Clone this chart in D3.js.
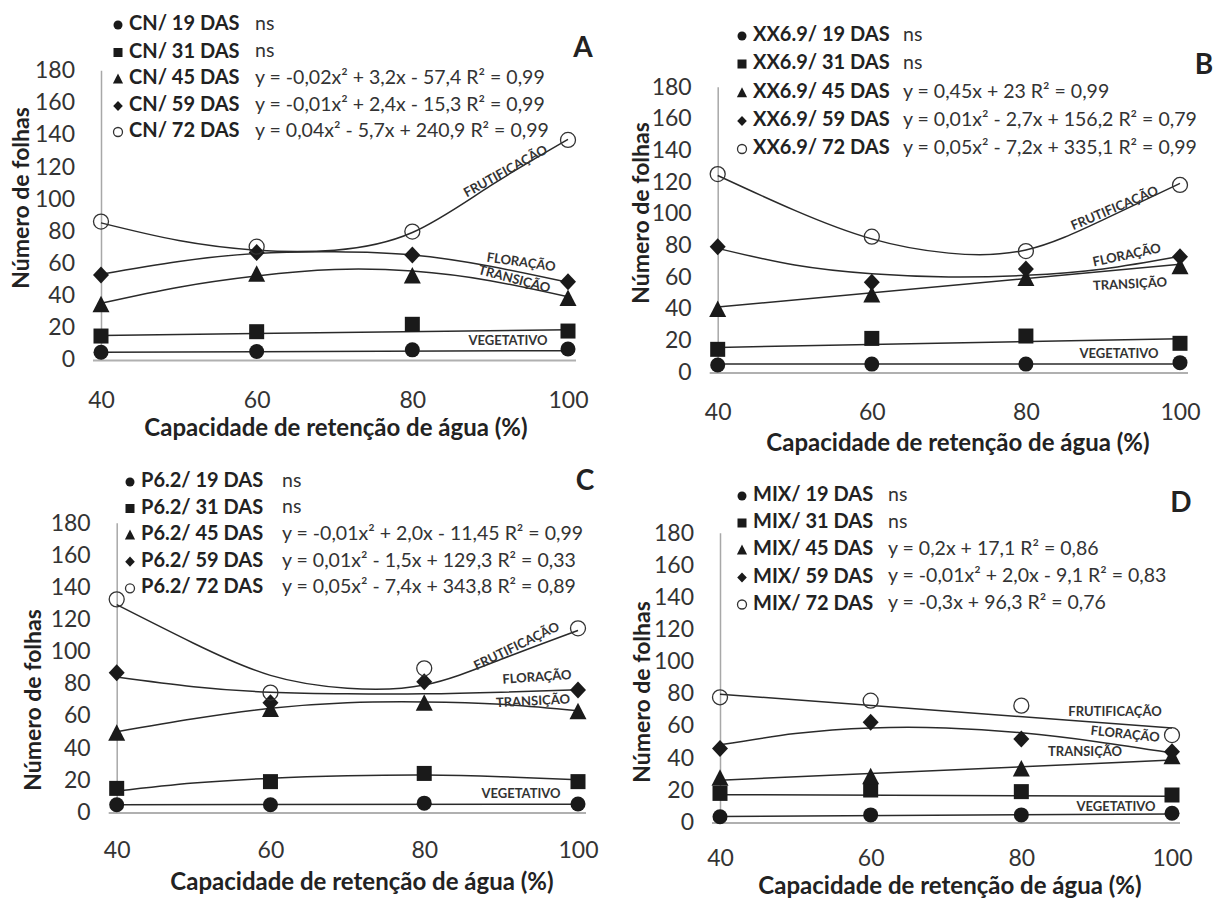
<!DOCTYPE html>
<html>
<head>
<meta charset="utf-8">
<script src="https://cdn.jsdelivr.net/npm/d3@7"></script>
<style>
  body { margin: 0; background: #fff; }
  svg { display: block; font-family: Lato, "Open Sans", sans-serif; }
</style>
</head>
<body>
<svg id="chart" width="1221" height="902"></svg>
<script>
// shared categories / ticks
var xCats = [40, 60, 80, 100];
var yTicks = [0, 20, 40, 60, 80, 100, 120, 140, 160, 180];
var trendX = [40, 50, 60, 70, 80, 90, 100];   // x where curved trend lines were read
var lineX = [40, 100];                        // x where straight trend lines were read
var stageNames = ["FRUTIFICAÇÃO", "FLORAÇÃO", "TRANSIÇÃO", "VEGETATIVO"];
var dasNames = ["19 DAS", "31 DAS", "45 DAS", "59 DAS", "72 DAS"];

// A - CN
var cnObs = [[4.5, 5, 6, 6.5], [14.6, 17.3, 21.9, 17.7], [34, 53, 52, 38], [52.6, 66.5, 65, 48.4], [85.8, 70.2, 79.6, 136.6]];
var cnTrend = [[4.5, 5.5], [15, 18.5], [35, 45, 52, 56, 55, 49, 39], [53, 61, 66, 67, 65, 58, 48], [85, 74, 68, 68, 79, 108, 137]];
var cnEq = ["ns", "ns", "y = -0,02x² + 3,2x - 57,4 R² = 0,99", "y = -0,01x² + 2,4x - 15,3 R² = 0,99", "y = 0,04x² - 5,7x + 240,9 R² = 0,99"];

// B - XX6.9
var xxObs = [[4.4, 5, 5, 5.9], [14.3, 21.2, 22.7, 18.1], [39.5, 48.6, 59, 66.4], [79, 56.6, 65, 72.7], [124.9, 85.4, 76.3, 118]];
var xxTrend = [[5, 5], [15.5, 21], [41, 68], [78, 67.5, 62, 60, 61, 65, 73], [124, 102, 84, 75, 77, 96, 119]];
var xxEq = ["ns", "ns", "y = 0,45x + 23 R² = 0,99", "y = 0,01x² - 2,7x + 156,2 R² = 0,79", "y = 0,05x² - 7,2x + 335,1 R² = 0,99"];

// C - P6.2
var pObs = [[4.5, 4.5, 5.5, 5], [14.7, 18.9, 24, 18.9], [49, 63.7, 67.6, 62.4], [86.7, 68, 81.1, 75.9], [132.3, 74.3, 89.4, 114.3]];
var pTrend = [[4.5, 4.8], [13, 18, 21, 22.5, 23, 22, 20], [50, 58, 64.5, 68, 68.5, 67, 63], [84, 78, 74.5, 73.5, 73.5, 74.5, 76], [129, 105, 85, 77, 79, 95, 113]];
var pEq = ["ns", "ns", "y = -0,01x² + 2,0x - 11,45 R² = 0,99", "y = 0,01x² - 1,5x + 129,3 R² = 0,33", "y = 0,05x² - 7,4x + 343,8 R² = 0,89"];

// D - MIX
var mixObs = [[3.3, 4.4, 4.4, 5.4], [17.8, 19.9, 18.9, 16.8], [27.2, 28.2, 33, 40.6], [45.8, 62, 51.6, 43.7], [77.6, 75.5, 72.4, 54.1]];
var mixTrend = [[3.5, 5], [17, 16], [26, 38.5], [48, 55, 58.5, 58.5, 55.5, 50, 43], [79.5, 58.5]];
var mixEq = ["ns", "ns", "y = 0,2x + 17,1 R² = 0,86", "y = -0,01x² + 2,0x - 9,1 R² = 0,83", "y = -0,3x + 96,3 R² = 0,76"];

// layout of the four panels (pixel positions only)
var panels = [
  {letter: "A", name: "CN", obs: cnObs, trend: cnTrend, eq: cnEq,
   x0: 101, x1: 568, y0: 359.5, y1: 70.2, letterPos: [583, 50], tickPad: 32,
   legX: 118, legRows: [25, 52.5, 79, 106, 132], eqX: 255,
   xTitle: [336, 430], yTitle: [23, 198],
   stages: [[506, 172, -29], [521, 263, 8], [514, 280, 15], [508, 342, 0]]},
  {letter: "B", name: "XX6.9", obs: xxObs, trend: xxTrend, eq: xxEq,
   x0: 717.7, x1: 1180, y0: 372, y1: 86.7, letterPos: [1204, 67], tickPad: 32,
   legX: 742, legRows: [36, 64, 92.7, 121, 149], eqX: 903,
   xTitle: [958, 445], yTitle: [643, 213],
   stages: [[1115, 209, -23], [1127, 256, -12], [1130, 285, -3], [1119, 355, 0]]},
  {letter: "C", name: "P6.2", obs: pObs, trend: pTrend, eq: pEq,
   x0: 116.7, x1: 578, y0: 812, y1: 522.7, letterPos: [585, 483], tickPad: 30,
   legX: 130, legRows: [482, 508.5, 535, 561.7, 588.3], eqX: 282,
   xTitle: [362, 884], yTitle: [35, 700],
   stages: [[517, 647, -26], [537, 678, -4], [533, 702, -3], [521, 795, 0]]},
  {letter: "D", name: "MIX", obs: mixObs, trend: mixTrend, eq: mixEq,
   x0: 720, x1: 1172, y0: 822, y1: 532.7, letterPos: [1181, 505], tickPad: 28,
   legX: 742, legRows: [496, 523, 550, 577.5, 604.5], eqX: 888,
   xTitle: [950, 888], yTitle: [644, 692],
   stages: [[1115, 713, 0], [1125, 735, 6], [1085, 753, 0], [1116, 808, 0]]}
];

var ink = "#1a1a1a";
var svg = d3.select("#chart");

// marker shapes: circle, square, triangle, diamond, open circle
function marker(g, k, cx, cy, s) {
  if (k === 0 || k === 4) {
    g.append("circle").attr("cx", cx).attr("cy", cy).attr("r", 7.5 * s)
      .attr("fill", k === 0 ? ink : "none")
      .attr("stroke", k === 0 ? "none" : "#333").attr("stroke-width", 1.3);
  } else if (k === 1) {
    g.append("rect").attr("x", cx - 7.5 * s).attr("y", cy - 7.5 * s)
      .attr("width", 15 * s).attr("height", 15 * s).attr("fill", ink);
  } else if (k === 2) {
    g.append("path").attr("transform", "translate(" + cx + "," + cy + ")")
      .attr("d", "M0," + (-9 * s) + "L" + (8.5 * s) + "," + (7.5 * s) + "L" + (-8.5 * s) + "," + (7.5 * s) + "Z")
      .attr("fill", ink);
  } else {
    g.append("path").attr("transform", "translate(" + cx + "," + cy + ")")
      .attr("d", "M0," + (-8.5 * s) + "L" + (8 * s) + ",0L0," + (8.5 * s) + "L" + (-8 * s) + ",0Z")
      .attr("fill", ink);
  }
}

panels.forEach(function (p) {
  var g = svg.append("g");
  var x = d3.scaleLinear().domain([40, 100]).range([p.x0, p.x1]);
  var y = d3.scaleLinear().domain([0, 180]).range([p.y0, p.y1]);

  // y axis: thin grey line at x = 40
  var ya = g.append("g").attr("transform", "translate(" + p.x0 + ",0)")
    .call(d3.axisLeft(y).tickValues(yTicks).tickSize(0).tickPadding(26));
  ya.select(".domain").attr("stroke", "#a8a8a8").attr("stroke-width", 1.5);
  ya.selectAll("text").attr("font-size", 23).attr("fill", "#333").attr("font-family", "Lato");

  // x axis
  var xa = g.append("g").attr("transform", "translate(0," + p.y0 + ")")
    .call(d3.axisBottom(x).tickValues(xCats).tickSize(0).tickPadding(p.tickPad));
  xa.select(".domain").remove();
  xa.selectAll("text").attr("font-size", 23).attr("fill", "#333").attr("font-family", "Lato");
  g.append("line").attr("x1", p.x0 - 8).attr("x2", p.x1 + 8)
    .attr("y1", p.y0 + 1).attr("y2", p.y0 + 1)
    .attr("stroke", "#b0b0b0").attr("stroke-width", 2);

  // axis titles
  g.append("text").attr("x", p.xTitle[0]).attr("y", p.xTitle[1])
    .attr("text-anchor", "middle").attr("dominant-baseline", "middle")
    .attr("font-size", 24).attr("font-weight", "bold").attr("fill", "#222")
    .text("Capacidade de retenção de água (%)");
  g.append("text").attr("transform", "translate(" + p.yTitle[0] + "," + p.yTitle[1] + ") rotate(-90)")
    .attr("text-anchor", "middle").attr("dominant-baseline", "middle")
    .attr("font-size", 23).attr("font-weight", "bold").attr("fill", "#222")
    .text("Número de folhas");

  // trend lines
  p.trend.forEach(function (vals) {
    var xs = vals.length === 2 ? lineX : trendX;
    var pts = vals.map(function (v, i) { return [xs[i], v]; });
    g.append("path").datum(pts)
      .attr("fill", "none").attr("stroke", "#2a2a2a").attr("stroke-width", 1.5)
      .attr("d", d3.line().x(function (d) { return x(d[0]); }).y(function (d) { return y(d[1]); })
        .curve(d3.curveNatural));
  });

  // observed points
  p.obs.forEach(function (vals, k) {
    vals.forEach(function (v, i) { marker(g, k, x(xCats[i]), y(v), 1); });
  });

  // stage labels
  p.stages.forEach(function (s, i) {
    g.append("text").attr("transform", "translate(" + s[0] + "," + s[1] + ") rotate(" + s[2] + ")")
      .attr("text-anchor", "middle").attr("dominant-baseline", "middle")
      .attr("font-size", 13).attr("font-weight", "bold").attr("fill", "#333")
      .text(stageNames[i]);
  });

  // legend
  p.legRows.forEach(function (ry, k) {
    marker(g, k, p.legX, ry, 0.6);
    g.append("text").attr("x", p.legX + 11).attr("y", ry)
      .attr("dominant-baseline", "middle").attr("font-size", 20).attr("font-weight", "bold").attr("fill", "#222")
      .text(p.name + "/ " + dasNames[k]);
    g.append("text").attr("x", p.eqX).attr("y", ry)
      .attr("dominant-baseline", "middle").attr("font-size", 19.5).attr("fill", "#333")
      .text(p.eq[k]);
  });

  g.append("text").attr("x", p.letterPos[0]).attr("y", p.letterPos[1])
    .attr("text-anchor", "middle").attr("dominant-baseline", "middle")
    .attr("font-size", 28).attr("font-weight", "bold").attr("fill", "#222")
    .text(p.letter);
});
</script>
</body>
</html>
